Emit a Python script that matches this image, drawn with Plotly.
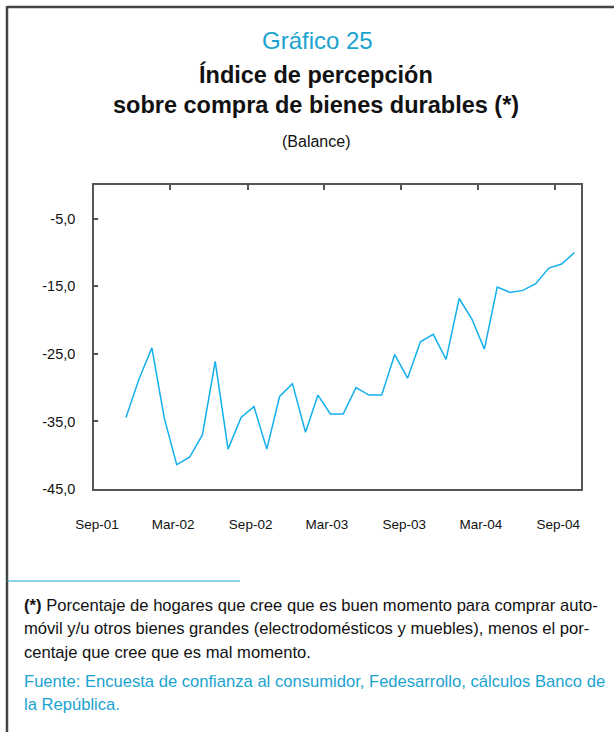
import plotly.graph_objects as go

# ---- data ----
months = ["2001-11", "2001-12", "2002-01", "2002-02", "2002-03", "2002-04", "2002-05", "2002-06",
          "2002-07", "2002-08", "2002-09", "2002-10", "2002-11", "2002-12", "2003-01", "2003-02",
          "2003-03", "2003-04", "2003-05", "2003-06", "2003-07", "2003-08", "2003-09", "2003-10",
          "2003-11", "2003-12", "2004-01", "2004-02", "2004-03", "2004-04", "2004-05", "2004-06",
          "2004-07", "2004-08", "2004-09", "2004-10"]
balance = [-34.4, -28.8, -24.1, -34.5, -41.4, -40.3, -37.0, -26.1,
           -39.1, -34.4, -32.8, -39.1, -31.3, -29.4, -36.6, -31.1,
           -33.9, -33.9, -30.0, -31.1, -31.1, -25.1, -28.6, -23.2,
           -22.1, -25.8, -16.8, -19.8, -24.3, -15.1, -15.9, -15.6,
           -14.6, -12.3, -11.7, -10.0]
tick_dates = ["2001-09-01", "2002-03-01", "2002-09-01", "2003-03-01", "2003-09-01", "2004-03-01", "2004-09-01"]
tick_labels = ["Sep-01", "Mar-02", "Sep-02", "Mar-03", "Sep-03", "Mar-04", "Sep-04"]
y_ticks = [-45, -35, -25, -15, -5]
y_labels = ["-45,0", "-35,0", "-25,0", "-15,0", "-5,0"]

W, H = 614, 732
L, R, T, B = 94, 581, 185, 489

def xp(px):
    return (px - L) / (R - L)

def yp(py):
    return (B - py) / (B - T)

FONT = "Liberation Sans, Arial, sans-serif"
BLUE = "#1aa3cf"
LINE = "#12b0ec"
AX = "#555555"

fig = go.Figure()
fig.add_trace(go.Scatter(
    x=months, y=balance, mode="lines",
    xperiod="M1", xperiodalignment="middle",
    line=dict(color=LINE, width=1.5),
    showlegend=False, hoverinfo="x+y"))
# invisible trace for the top tick axis
fig.add_trace(go.Scatter(x=[tick_dates[0]], y=[y_ticks[0]], xaxis="x2", mode="markers",
                         marker=dict(opacity=0), showlegend=False, hoverinfo="skip"))

xrange = ["2001-09-01", "2004-11-01"]
fig.update_layout(
    width=W, height=H,
    margin=dict(l=L, r=W - R, t=T, b=H - B),
    paper_bgcolor="white", plot_bgcolor="white",
    xaxis=dict(type="date", range=xrange, tickvals=tick_dates, ticktext=tick_labels,
               ticks="", showgrid=False, zeroline=False, showline=True, linecolor=AX,
               linewidth=1.5, mirror=True, ticklabelshift=3,
               tickfont=dict(family=FONT, size=13.5, color="#111"), ticklabelstandoff=22),
    xaxis2=dict(type="date", range=xrange, overlaying="x", side="top",
                tickvals=tick_dates[1:], ticks="inside", ticklen=5, tickwidth=1.5,
                tickcolor=AX, showticklabels=False, showgrid=False, zeroline=False,
                showline=False),
    yaxis=dict(range=[-45, 0], tickvals=y_ticks, ticktext=y_labels, ticks="inside",
               ticklen=4, tickwidth=1.5, tickcolor=AX, showgrid=False, zeroline=False,
               showline=True, linecolor=AX, linewidth=1.5, mirror=True,
               tickfont=dict(family=FONT, size=14.5, color="#111"), ticklabelstandoff=14),
)

shapes = [
    dict(type="line", xref="paper", yref="paper", x0=xp(7), x1=xp(614), y0=yp(7), y1=yp(7),
         line=dict(color="#444", width=2.5)),
    dict(type="line", xref="paper", yref="paper", x0=xp(7), x1=xp(7), y0=yp(6), y1=yp(732),
         line=dict(color="#444", width=2.5)),
    dict(type="line", xref="paper", yref="paper", x0=xp(7), x1=xp(240), y0=yp(581), y1=yp(581),
         line=dict(color=BLUE, width=1.2)),
]
fig.update_layout(shapes=shapes)

def ann(text, x, y, size, color="#111", xanchor="center"):
    fig.add_annotation(text=text, x=xp(x), y=yp(y), xref="paper", yref="paper",
                       xanchor=xanchor, yanchor="middle", showarrow=False,
                       font=dict(family=FONT, size=size, color=color), align="left")

ann("Gráfico 25", 317, 40, 24, BLUE)
ann("<b>Índice de percepción</b>", 316, 75, 23.5)
ann("<b>sobre compra de bienes durables (*)</b>", 316, 105, 23.5)
ann("(Balance)", 316, 141, 16)

foot = ["<b>(*)</b> Porcentaje de hogares que cree que es buen momento para comprar auto-",
        "móvil y/u otros bienes grandes (electrodomésticos y muebles), menos el por-",
        "centaje que cree que es mal momento."]
for i, t in enumerate(foot):
    ann(t, 22, 605 + i * 23.5, 16.6, "#111", "left")
src = ["Fuente: Encuesta de confianza al consumidor, Fedesarrollo, cálculos Banco de",
       "la República."]
for i, t in enumerate(src):
    ann(t, 22, 681 + i * 23.5, 16.6, BLUE, "left")

fig.write_html("out.html", config={"displayModeBar": False},
               post_script="document.body.style.margin='0';document.body.style.overflow='hidden';")
